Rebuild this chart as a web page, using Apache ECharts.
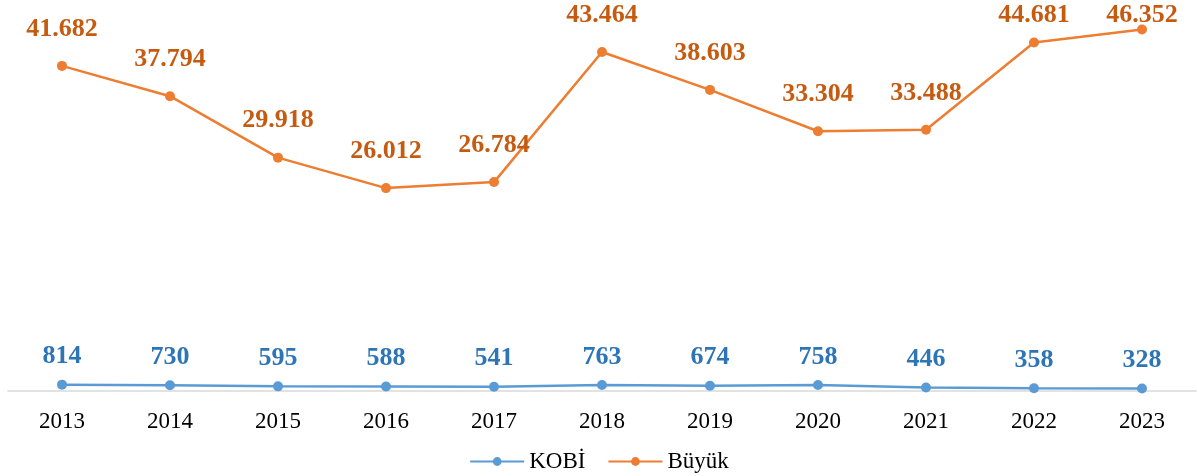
<!DOCTYPE html>
<html>
<head>
<meta charset="utf-8">
<script src="https://cdn.jsdelivr.net/npm/echarts@6/dist/echarts.min.js"></script>
<style>
  html, body { margin: 0; padding: 0; background: #fff; }
  #chart { width: 1198px; height: 476px; }
</style>
</head>
<body>
<div id="chart"></div>
<script>
const years = ['2013', '2014', '2015', '2016', '2017', '2018', '2019', '2020', '2021', '2022', '2023'];
const kobi = [814, 730, 595, 588, 541, 763, 674, 758, 446, 358, 328];
const buyuk = [41682, 37794, 29918, 26012, 26784, 43464, 38603, 33304, 33488, 44681, 46352];

const fmt = v => String(v).replace(/\B(?=(\d{3})+(?!\d))/g, '.');
const font = '"Liberation Serif", "Times New Roman", serif';

const chart = echarts.init(document.getElementById('chart'));

chart.setOption({
  animation: false,
  textStyle: { fontFamily: font },
  grid: { left: 8, right: 2, top: 1, bottom: 85 },
  legend: {
    bottom: -2,
    left: 'center',
    itemWidth: 54,
    itemHeight: 11,
    itemGap: 22,
    textStyle: { fontFamily: font, fontSize: 23, color: '#000' },
    data: ['KOBİ', 'Büyük']
  },
  xAxis: {
    type: 'category',
    data: years,
    boundaryGap: true,
    axisLine: { lineStyle: { color: '#d9d9d9', width: 1.5 } },
    axisTick: { show: false },
    axisLabel: { fontFamily: font, fontSize: 23, color: '#000', margin: 19 }
  },
  yAxis: {
    type: 'value',
    min: 0,
    max: 50000,
    show: false,
    splitLine: { show: false }
  },
  // keep labels that would run off the top inside the canvas
  labelLayout(params) {
    if (params.labelRect.y < 2) return { dy: 2 - params.labelRect.y };
  },
  series: [
    {
      name: 'KOBİ',
      type: 'line',
      data: kobi,
      symbol: 'circle',
      symbolSize: 10,
      lineStyle: { color: '#5b9bd5', width: 2.5 },
      itemStyle: { color: '#5b9bd5' },
      label: {
        show: true,
        position: 'top',
        distance: 10,
        formatter: p => fmt(p.value),
        fontFamily: font,
        fontSize: 26,
        fontWeight: 'bold',
        color: '#2e75b6'
      }
    },
    {
      name: 'Büyük',
      type: 'line',
      data: buyuk,
      symbol: 'circle',
      symbolSize: 10,
      lineStyle: { color: '#ed7d31', width: 2.5 },
      itemStyle: { color: '#ed7d31' },
      label: {
        show: true,
        position: 'top',
        distance: 19,
        formatter: p => fmt(p.value),
        fontFamily: font,
        fontSize: 26,
        fontWeight: 'bold',
        color: '#c55a11'
      }
    }
  ]
});

window.addEventListener('resize', () => chart.resize());
</script>
</body>
</html>
